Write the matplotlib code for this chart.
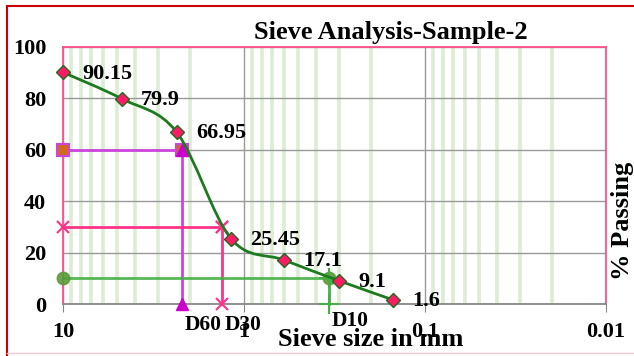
import numpy as np
import matplotlib.pyplot as plt
from matplotlib.path import Path
from matplotlib.patches import PathPatch
from matplotlib.lines import Line2D
from matplotlib.ticker import LogLocator, NullFormatter, FixedLocator

plt.rcParams['font.family'] = ['Liberation Serif', 'DejaVu Serif']
plt.rcParams['font.weight'] = 'bold'

# sieve data
sizes = [10, 4.75, 2.36, 1.18, 0.6, 0.3, 0.15]
passing = [90.15, 79.9, 66.95, 25.45, 17.1, 9.1, 1.6]
d60, d30, d10 = 2.2, 1.32, 0.34
xticks = [10, 1, 0.1, 0.01]
xticklabels = ['10', '1', '0.1', '0.01']
yticks = [0, 20, 40, 60, 80, 100]

fig = plt.figure(figsize=(6.34, 3.56), dpi=100)
ax = fig.add_axes([63/634, 52/356, 543/634, 257/356])
ax.set_xscale('log')
ax.set_xlim(10, 0.01)
ax.set_ylim(0, 100)

# grid: pale green minor verticals, grey majors
ax.xaxis.set_minor_locator(LogLocator(base=10, subs=np.arange(2, 10)))
ax.xaxis.set_minor_formatter(NullFormatter())
ax.grid(True, which='minor', axis='x', color='#dcedd3', lw=2.6, zorder=0)
ax.grid(True, which='major', axis='x', color='#9a9a9a', lw=1, zorder=0)
ax.grid(True, which='major', axis='y', color='#9a9a9a', lw=1, zorder=0)
ax.set_axisbelow(True)

ax.xaxis.set_major_locator(FixedLocator(xticks))
ax.set_xticklabels(xticklabels)
ax.set_yticks(yticks)
ax.tick_params(axis='x', which='minor', length=0)
ax.tick_params(axis='x', which='major', length=6, color='#888888', pad=7, labelsize=16)
ax.tick_params(axis='y', length=0, pad=12, labelsize=16)

for s in ['top', 'left', 'right']:
    ax.spines[s].set_color('#ff4f8b')
    ax.spines[s].set_linewidth(1.3)
ax.spines['bottom'].set_color('#888888')
ax.spines['bottom'].set_linewidth(1.3)

# D60 construction
ax.plot([10, d60], [60, 60], color='#cc44dd', lw=2, marker='s', ms=8,
        mfc='#d2691e', mec='#cc44dd', mew=1.5, zorder=3, clip_on=False)
ax.plot([d60, d60], [60, 0], color='#cc44dd', lw=2, marker='^', ms=9,
        mfc='#cc00cc', mec='#cc00cc', zorder=3, clip_on=False)
# D30 construction
ax.plot([10, d30], [30, 30], color='#ff3388', lw=2, marker='x', ms=9,
        mew=1.5, zorder=3, clip_on=False)
ax.plot([d30, d30], [30, 0], color='#ff3388', lw=2, marker='x', ms=9,
        mew=1.5, zorder=3, clip_on=False)
# D10 construction
ax.plot([10, d10], [10, 10], color='#44b044', lw=2, marker='o', ms=9,
        mfc='#5a9a3a', mec='#5a9a3a', alpha=0.9, zorder=3, clip_on=False)
ax.plot([d10, d10], [10, 0], color='#44b044', lw=2, marker='+', ms=14,
        mew=1.5, zorder=3, clip_on=False)

# smoothed grading curve (Catmull-Rom in log-x space)
pts = np.column_stack([np.log10(sizes), passing])
n = len(pts)
verts = [pts[0]]
codes = [Path.MOVETO]
for i in range(n - 1):
    p0 = pts[i - 1] if i > 0 else pts[i]
    p3 = pts[i + 2] if i + 2 < n else pts[i + 1]
    c1 = pts[i] + (pts[i + 1] - p0) / 6
    c2 = pts[i + 1] - (p3 - pts[i]) / 6
    verts += [c1, c2, pts[i + 1]]
    codes += [Path.CURVE4] * 3
verts = np.array(verts)
verts[:, 0] = 10 ** verts[:, 0]
ax.add_patch(PathPatch(Path(verts, codes), fill=False, ec='#1e7a1e', lw=2,
                       transform=ax.transData, zorder=4))
ax.plot(sizes, passing, ls='none', marker='D', ms=7, mfc='#ff1a66',
        mec='#1e6a1e', mew=1, zorder=5, clip_on=False)

for x, y in zip(sizes, passing):
    ax.annotate(f'{y:g}', (x, y), xytext=(14, -1), textcoords='offset points',
                ha='left', va='center', fontsize=16, fontweight='bold', zorder=6)

for d, lab, dy in [(d60, 'D60', -15), (d30, 'D30', -15), (d10, 'D10', -12)]:
    ax.annotate(lab, (d, 0), xytext=(2, dy), textcoords='offset points',
                ha='left', va='center', fontsize=15.5, fontweight='bold',
                annotation_clip=False)

fig.text(391/634, 1 - 33/356, 'Sieve Analysis-Sample-2', ha='center', va='center',
         fontsize=19, fontweight='bold')
fig.text(371/634, 1 - 340/356, 'Sieve size in mm', ha='center', va='center',
         fontsize=19, fontweight='bold')
fig.text(623/634, 1 - 221/356, '% Passing', ha='center', va='center',
         rotation=90, fontsize=19, fontweight='bold')

# outer chart border
fig.add_artist(Line2D([7/634, 7/634], [0, 1 - 6/356], transform=fig.transFigure,
                      color='#cc0000', lw=1.5))
fig.add_artist(Line2D([7/634, 1], [1 - 6/356, 1 - 6/356], transform=fig.transFigure,
                      color='#cc0000', lw=1.5))
fig.add_artist(Line2D([7/634, 1], [3/356, 3/356], transform=fig.transFigure,
                      color='#f4c8d0', lw=1))

fig.savefig('out.png', dpi=100)
